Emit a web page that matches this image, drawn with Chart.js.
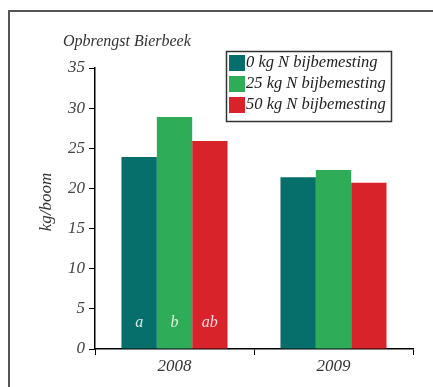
<!DOCTYPE html>
<html>
<head>
<meta charset="utf-8">
<script src="https://cdn.jsdelivr.net/npm/chart.js@4"></script>
<style>
  html, body { margin: 0; padding: 0; background: #fff; }
  #wrap { width: 433px; height: 387px; }
</style>
</head>
<body>
<div id="wrap"><canvas id="myChart" width="433" height="387"></canvas></div>
<script>
const jaren = ['2008', '2009'];
const labels = ['0 kg N bijbemesting', '25 kg N bijbemesting', '50 kg N bijbemesting'];
const n0 = [23.9, 21.4];
const n25 = [28.9, 22.3];
const n50 = [25.9, 20.7];
const letters2008 = ['a', 'b', 'ab'];
const yTicks = [0, 5, 10, 15, 20, 25, 30, 35];

const kleuren = ['#066f6b', '#2fac58', '#d9232a'];
const font = "'Liberation Serif', 'DejaVu Serif', serif";

// kader, titel, aslabel, legende en letters
const extra = {
    id: 'extra',
    beforeDraw(chart) {
        const c = chart.ctx;
        c.save();
        c.strokeStyle = '#555';
        c.lineWidth = 2;
        c.strokeRect(9, 11, 600, 600);
        c.restore();
    },
    afterDraw(chart) {
        const c = chart.ctx;
        c.save();
        c.fillStyle = '#333';
        c.font = 'italic 16px ' + font;
        c.textBaseline = 'alphabetic';
        c.fillText('Opbrengst Bierbeek', 63, 46);

        // y-as titel
        c.save();
        c.translate(47, 202);
        c.rotate(-Math.PI / 2);
        c.textAlign = 'center';
        c.textBaseline = 'middle';
        c.font = 'italic 17px ' + font;
        c.fillText('kg/boom', 0, 0);
        c.restore();

        // legende
        c.strokeStyle = '#333';
        c.lineWidth = 1.5;
        c.strokeRect(226.5, 51.5, 165, 70);
        chart.data.datasets.forEach((ds, i) => {
            const y = 55 + i * 21;
            c.fillStyle = ds.backgroundColor;
            c.fillRect(229, y, 16, 16);
            c.fillStyle = '#222';
            c.font = 'italic 16.5px ' + font;
            c.textBaseline = 'middle';
            c.fillText(ds.label, 246, y + 8);
        });

        // letters in de balken van 2008
        c.fillStyle = 'rgba(255,255,255,0.85)';
        c.font = 'italic 16px ' + font;
        c.textAlign = 'center';
        c.textBaseline = 'middle';
        letters2008.forEach((l, i) => {
            const bar = chart.getDatasetMeta(i).data[0];
            c.fillText(l, bar.x, chart.scales.y.getPixelForValue(3.3));
        });
        c.restore();
    }
};

const ctx = document.getElementById('myChart').getContext('2d');
const myChart = new Chart(ctx, {
    type: 'bar',
    data: {
        labels: jaren,
        datasets: [
            { label: labels[0], data: n0, backgroundColor: kleuren[0] },
            { label: labels[1], data: n25, backgroundColor: kleuren[1] },
            { label: labels[2], data: n50, backgroundColor: kleuren[2] }
        ]
    },
    options: {
        responsive: false,
        animation: false,
        layout: { padding: { top: 68, right: 20, left: 0, bottom: 0 } },
        datasets: { bar: { barPercentage: 1, categoryPercentage: 0.667 } },
        plugins: { legend: { display: false }, tooltip: { enabled: false } },
        scales: {
            x: {
                grid: { drawOnChartArea: false, tickLength: 6, color: '#000', offset: true },
                border: { color: '#000', width: 1.5 },
                ticks: { color: '#333', font: { family: font, style: 'italic', size: 17 }, padding: 1 },
                afterFit(s) { s.height = 38; }
            },
            y: {
                min: 0,
                max: 35,
                afterBuildTicks(s) { s.ticks = yTicks.map(v => ({ value: v })); },
                grid: { drawOnChartArea: false, tickLength: 6, color: '#000' },
                border: { color: '#000', width: 1.5 },
                ticks: { color: '#444', font: { family: font, style: 'italic', size: 17 }, padding: 4 },
                afterFit(s) { s.width = 95; }
            }
        }
    },
    plugins: [extra]
});
</script>
</body>
</html>
